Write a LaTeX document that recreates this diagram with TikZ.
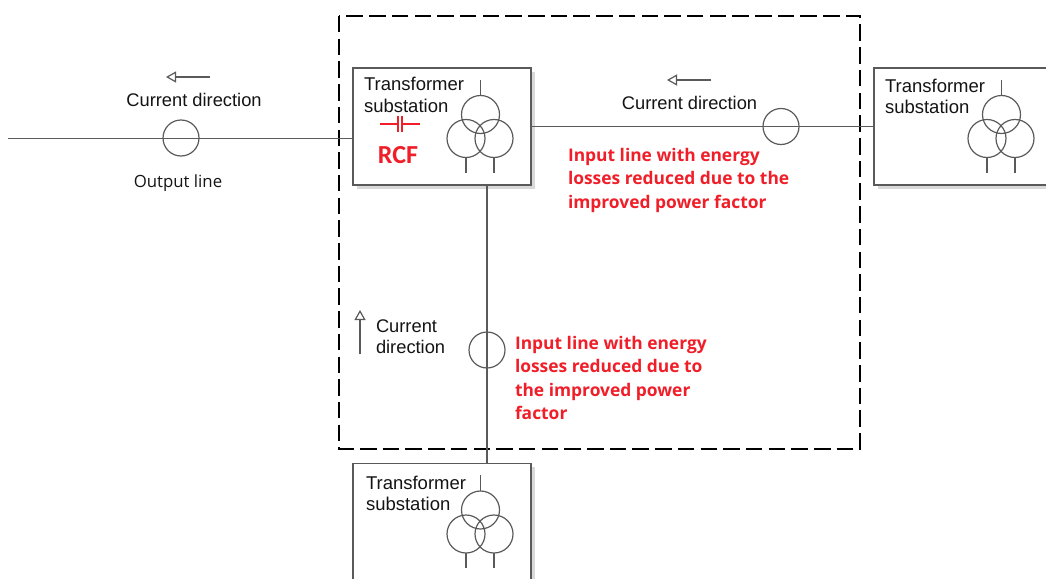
\documentclass[tikz,border=0pt]{standalone}
\usepackage{fontspec}
\setmainfont{Liberation Sans}
\newfontfamily\redfont{Open Sans}
\newfontfamily\rcffont{Carlito}
\usetikzlibrary{arrows.meta, calc, shadows}
\definecolor{linegray}{HTML}{5A5A5A}
\definecolor{rcfred}{HTML}{F01E28}
\tikzset{%
  x=1pt,
  y=-1pt,
  every node/.style={inner sep=0pt, outer sep=0pt},
  wire/.style={draw=linegray, line width=1.2pt},
  substation/.style={
    draw=linegray,
    line width=1.2pt,
    fill=white,
    minimum width=178pt,
    minimum height=117pt,
    drop shadow={shadow xshift=3.5pt, shadow yshift=-3.5pt, fill=black!15, opacity=1}},
  winding/.style={circle, draw=linegray, line width=1.2pt, minimum size=38pt},
  meter/.style={circle, draw=linegray, line width=1.2pt, minimum size=36pt},
  boxtext/.style={font=\fontsize{18.5}{21.5}\selectfont, align=left, anchor=north west, text=black!92},
  flowtext/.style={font=\fontsize{18.3}{21}\selectfont, align=left, text=black!92},
  flow/.style={draw=linegray, line width=1.2pt, -{Triangle[open, length=10pt, width=11pt]}},
  losstext/.style={font=\redfont\bfseries\fontsize{17.4}{23.5}\selectfont, text=rcfred, align=left, anchor=north west}
}

\begin{document}
\begin{tikzpicture}
  \clip[use as bounding box] (0,0) rectangle (1046,578);

  % boundary of the compensated part
  \draw[black, line width=2.8pt, dash pattern=on 16.5pt off 6.2pt] (339,16) rectangle (860,449);

  \node[substation] (subA) at (442,126.5) {};
  \node[substation] (subB) at (963,126.5) {};
  \node[substation] (subC) at (442,522) {};

  \node[boxtext] (subAtext) at (364,77.5) {Transformer\\substation};
  \node[boxtext] (subBtext) at (885,79) {Transformer\\substation};
  \node[boxtext] (subCtext) at (366,476) {Transformer\\substation};

  % transformer symbols
  \foreach \sub in {subA, subB, subC} {
    \node[winding] (\sub top) at ($(\sub.north west)+(127.5,46.5)$) {};
    \node[winding] (\sub left) at ($(\sub.north west)+(113,70.5)$) {};
    \node[winding] (\sub right) at ($(\sub.north west)+(141,70.5)$) {};
    \coordinate (\sub topend) at ($(\sub top.north)+(0,-16)$);
    \coordinate (\sub leftend) at ($(\sub left.south)+(0,15)$);
    \coordinate (\sub rightend) at ($(\sub right.south)+(0,15)$);
    \draw[wire] (\sub top.north) -- (\sub topend);
    \draw[wire] (\sub left.south) -- (\sub leftend);
    \draw[wire] (\sub right.south) -- (\sub rightend);
  }

  % lines
  \coordinate (outend) at (8,138.5);
  \coordinate (outA) at (subA.west |- outend);
  \draw[wire] (outend) -- (outA);
  \coordinate (inA) at (subA.east |- 0,126.5);
  \coordinate (inB) at (subB.west |- 0,126.5);
  \draw[wire] (inA) -- (inB);
  \coordinate (downA) at (487,185);
  \coordinate (downC) at (487,463.5);
  \draw[wire] (downA) -- (downC);

  \node[meter] (meterA) at (181,138) {};
  \node[meter] (meterB) at (781,126.5) {};
  \node[meter] (meterC) at (487,350) {};

  % current directions
  \coordinate (flowAs) at (210,77);
  \coordinate (flowAe) at (166,77);
  \draw[flow] (flowAs) -- (flowAe);
  \coordinate (flowBs) at (711,80);
  \coordinate (flowBe) at (667,80);
  \draw[flow] (flowBs) -- (flowBe);
  \coordinate (flowCs) at (360,354);
  \coordinate (flowCe) at (360,310);
  \draw[flow] (flowCs) -- (flowCe);

  \node[flowtext] (flowAtext) at (194,100) {Current direction};
  \node[flowtext] (flowBtext) at (689.5,103) {Current direction};
  \node[flowtext, anchor=north west] (flowCtext) at (376,320) {Current\\direction};
  \node[font=\redfont\fontsize{16.8}{20}\selectfont, text=black!92] (outtext) at (178,183.5) {Output line};

  % capacitor
  \coordinate (capl) at (380,124);
  \coordinate (capr) at (420,124);
  \coordinate (capa) at (398,124);
  \coordinate (capb) at (402,124);
  \draw[rcfred, line width=1.5pt] (capl) -- (capa) (capb) -- (capr);
  \draw[rcfred, line width=1.5pt] ($(capa)+(0,-8)$) -- ($(capa)+(0,8)$);
  \draw[rcfred, line width=1.5pt] ($(capb)+(0,-8)$) -- ($(capb)+(0,8)$);
  \node[font=\rcffont\bfseries\fontsize{26}{28}\selectfont, text=rcfred] (rcf) at (398,155) {RCF};

  \node[losstext] (lossB) at (568,148) {Input line with energy\\losses reduced due to the\\improved power factor};
  \node[losstext] (lossC) at (515,336) {Input line with energy\\losses reduced due to\\the improved power\\factor};
\end{tikzpicture}
\end{document}
